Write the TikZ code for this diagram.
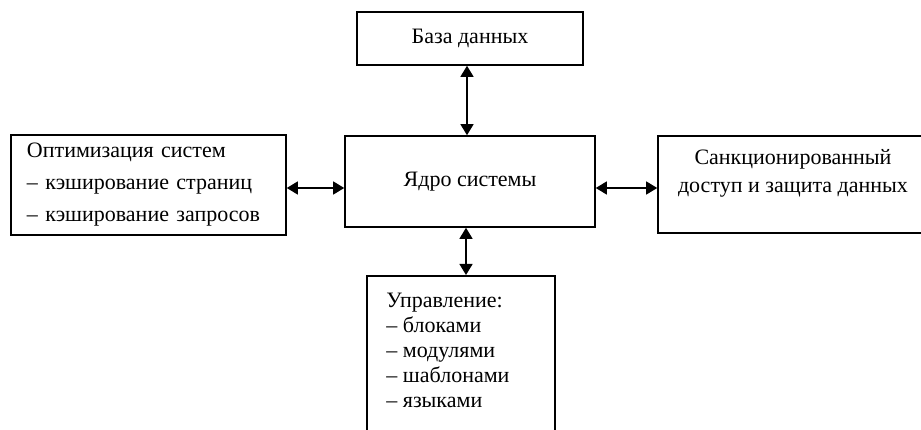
\documentclass[tikz,border=0pt]{standalone}
\usepackage{fontspec}
\setmainfont{Liberation Serif}
\usetikzlibrary{arrows.meta}

\tikzset{
  box/.style={draw, rectangle, line width=1.6pt, inner sep=0pt},
  link/.style={{Triangle[length=11pt,width=13pt]}-{Triangle[length=11pt,width=13pt]}, line width=1.3pt}
}

\begin{document}
\begin{tikzpicture}[x=1pt, y=-1pt, every node/.style={font=\fontsize{22}{28}\selectfont}]
        \useasboundingbox (0,0) rectangle (921,430);

        \node[box, minimum width=226, minimum height=53] (db) at (470,38.5) {База данных};
        \node[box, minimum width=250, minimum height=91] (core) at (470,181.5) {Ядро системы};
        \node[box, minimum width=275, minimum height=100, align=left, text width=243pt, inner xsep=16pt, font=\fontsize{22}{32}\selectfont] (opt) at (148.5,185) {Оптимизация систем\\– кэширование страниц\\– кэширование запросов};
        \node[box, minimum width=270, minimum height=97, align=center] (acc) at (793,184.5) {Санкционированный\\доступ и защита данных\\ \mbox{}};
        \node[box, minimum width=188, minimum height=180, anchor=north] (ctrl) at (461,275) {};
        \node[anchor=north west, align=left, inner sep=0pt, font=\fontsize{22}{25}\selectfont] (ctrltxt) at ([xshift=20pt, yshift=-18pt]ctrl.north west) {Управление:\\– блоками\\– модулями\\– шаблонами\\– языками};

        \draw[link] ([xshift=-3pt]db.south) -- ([xshift=-3pt]core.north);
        \draw[link] ([yshift=-3pt]opt.east) -- ([yshift=-3pt]opt.east -| core.west);
        \draw[link] ([yshift=-3.5pt]acc.west) -- ([yshift=-3.5pt]acc.west -| core.east);
        \draw[link] ([xshift=-4pt]core.south) -- ([xshift=-4pt]core.south |- ctrl.north);

\end{tikzpicture}
\end{document}
